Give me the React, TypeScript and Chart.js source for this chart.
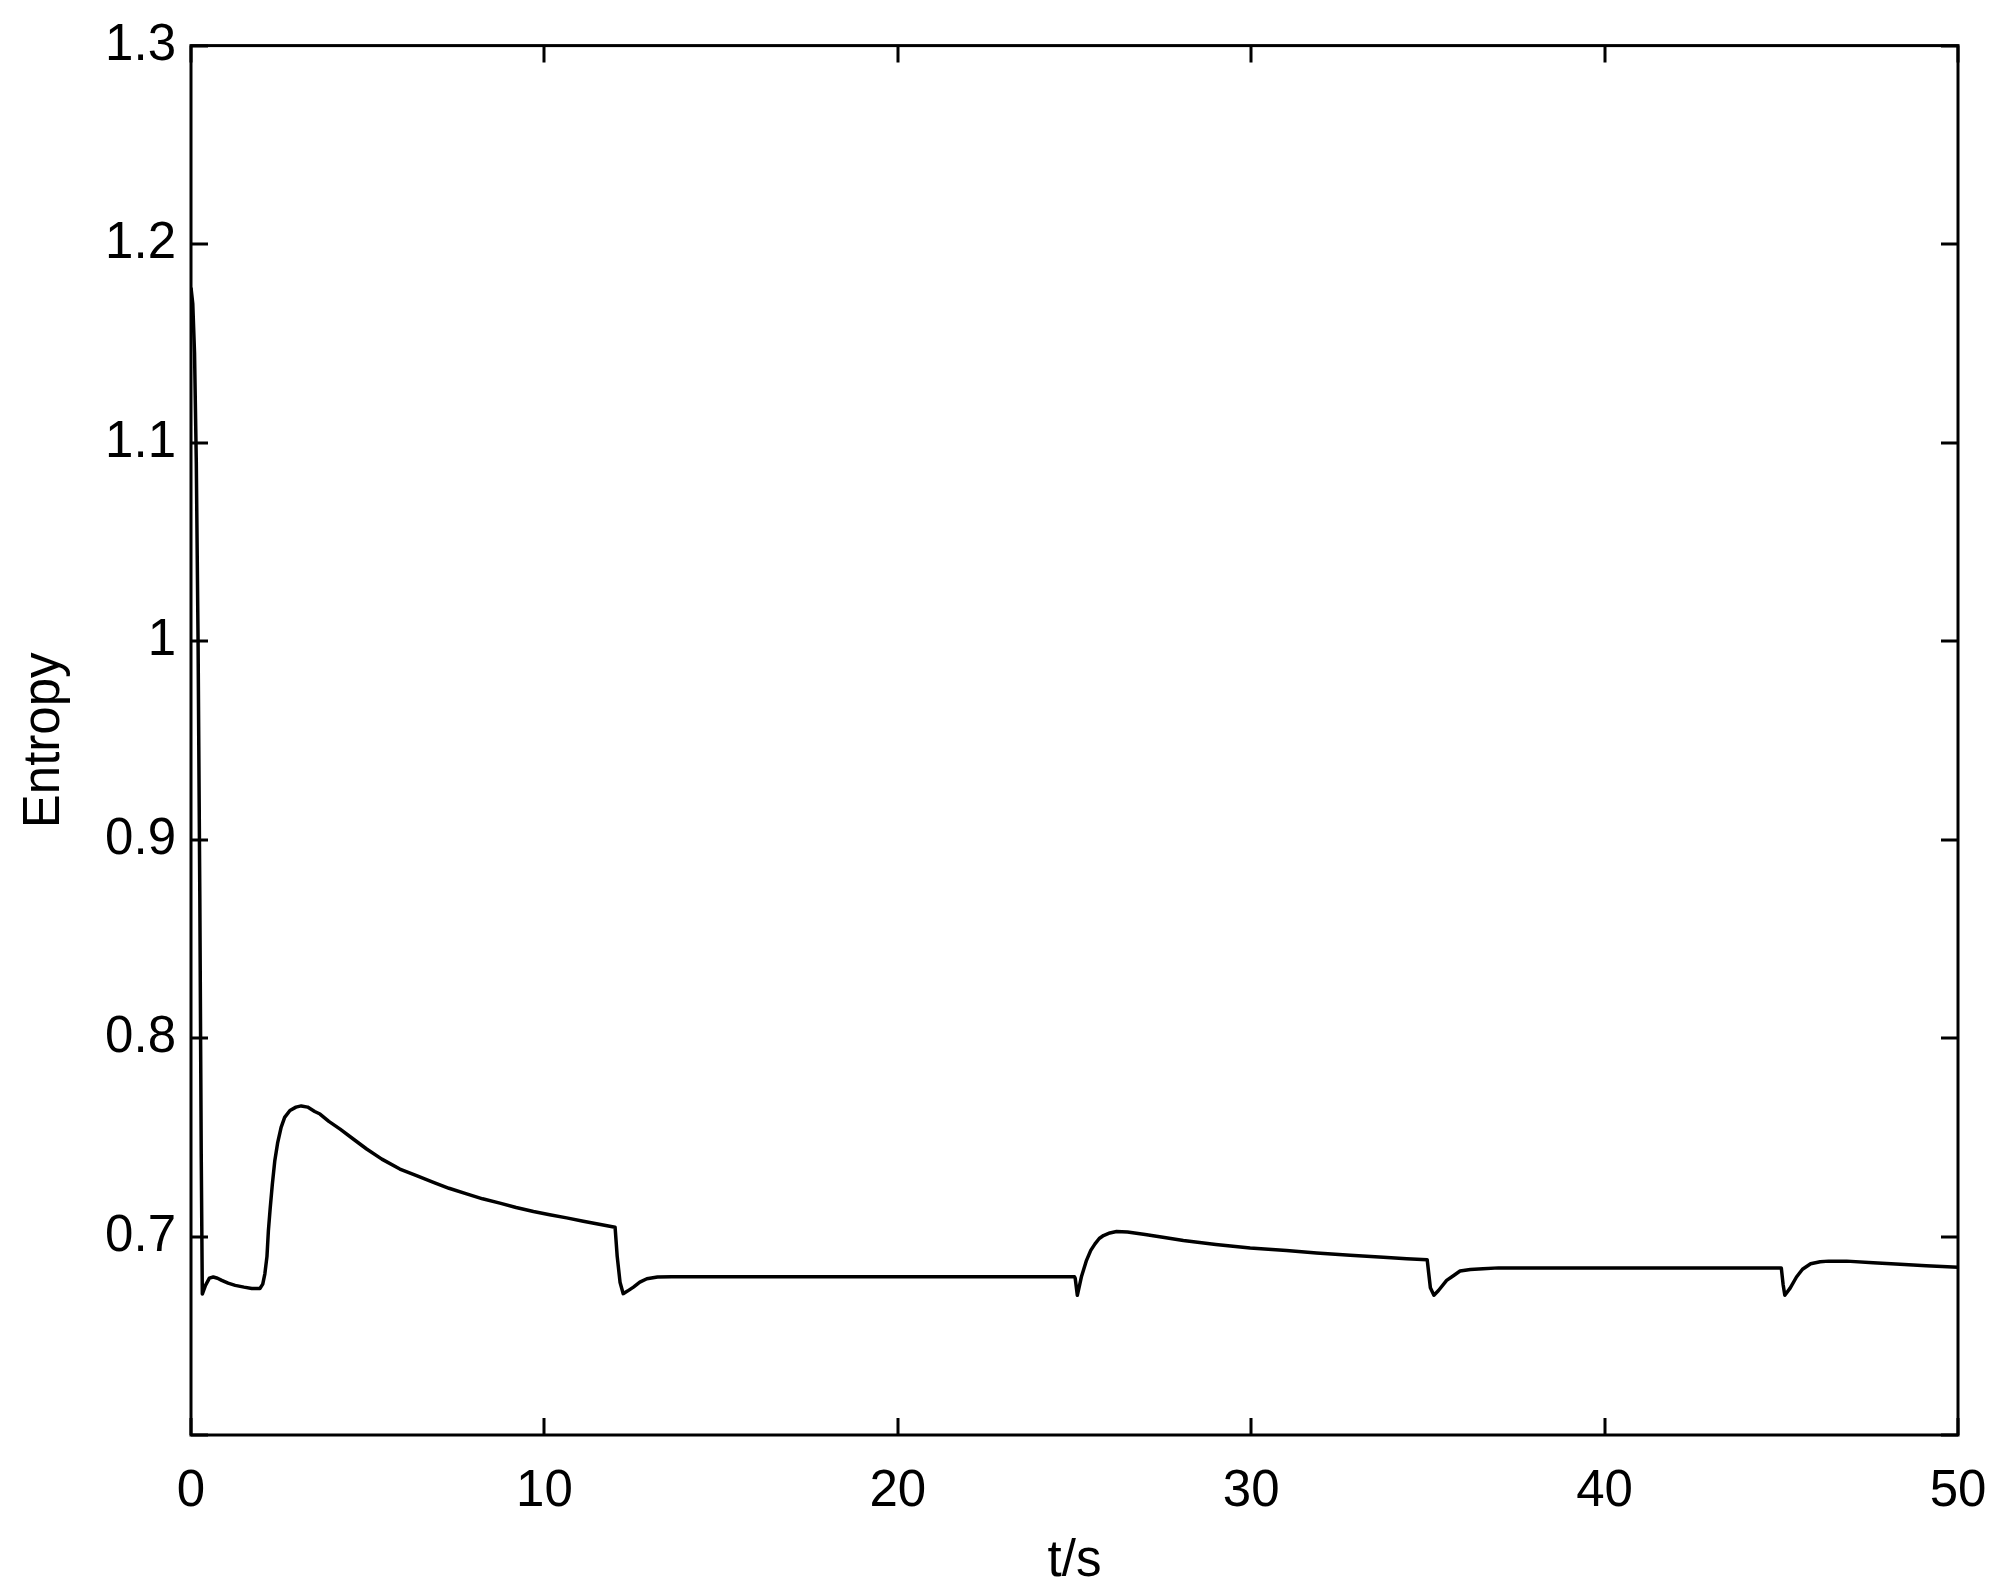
import React, { useEffect, useRef } from "react";
import { Chart, registerables } from "chart.js";

Chart.register(...registerables);

const timeData: number[] = [
  0, 0.05, 0.1, 0.15, 0.2, 0.25, 0.29, 0.32,
  0.41, 0.52, 0.63, 0.75, 0.87, 1.05, 1.25, 1.5, 1.72, 1.95,
  2.03, 2.09, 2.15, 2.19, 2.24, 2.3, 2.37, 2.45, 2.55, 2.65, 2.8, 2.97, 3.12, 3.3, 3.5, 3.65,
  3.9, 4.22, 4.6, 4.97, 5.4, 5.91, 6.4, 6.86, 7.3, 7.8, 8.25, 8.74, 9.2, 9.69, 10.15, 10.63,
  11.1, 11.55, 12.0, 12.06, 12.14, 12.23, 12.35, 12.52, 12.7, 12.9, 13.2, 13.6,
  25.0, 25.02, 25.08, 25.2, 25.34, 25.46, 25.58, 25.7, 25.82, 26.0, 26.19, 26.5, 27.0, 27.5,
  28.08, 29.0, 29.97, 31.0, 31.85, 32.8, 33.74, 34.4, 34.98,
  35.07, 35.17, 35.3, 35.53, 35.7, 35.91, 36.2, 36.56, 37.0,
  45.0, 45.05, 45.1, 45.25, 45.43, 45.6, 45.83, 46.1, 46.34, 46.85, 47.6, 48.36, 49.1, 50.0,
];

const entropyData: number[] = [
  1.178, 1.17, 1.145, 1.09, 1.0, 0.87, 0.74, 0.671,
  0.6754, 0.679, 0.6796, 0.679, 0.6779, 0.6765, 0.6754, 0.6745, 0.6738, 0.6738,
  0.676, 0.6812, 0.69, 0.703, 0.714, 0.726, 0.738, 0.747, 0.755, 0.76, 0.7635, 0.7652, 0.7658, 0.7652, 0.763, 0.7617,
  0.758, 0.7541, 0.749, 0.7441, 0.739, 0.734, 0.7305, 0.7273, 0.7243, 0.7215, 0.719, 0.7168, 0.7146, 0.7126, 0.711, 0.7094,
  0.7077, 0.7062, 0.7047, 0.69, 0.677, 0.6712, 0.6725, 0.6745, 0.677, 0.6787, 0.6796, 0.6797,
  0.6797, 0.679, 0.6704, 0.68, 0.688, 0.693, 0.6963, 0.699, 0.7005, 0.7018, 0.7025, 0.7023, 0.701, 0.6996,
  0.698, 0.696, 0.6942, 0.6929, 0.6917, 0.6906, 0.6896, 0.6888, 0.6883,
  0.6742, 0.6704, 0.6728, 0.6779, 0.68, 0.6826, 0.6834, 0.6838, 0.6842,
  0.6842, 0.676, 0.6704, 0.674, 0.6796, 0.6835, 0.6863, 0.6873, 0.6876, 0.6876, 0.6868, 0.686, 0.6853, 0.6845,
];

const xTicks: number[] = [0, 10, 20, 30, 40, 50];
const yTicks: number[] = [0.6, 0.7, 0.8, 0.9, 1.0, 1.1, 1.2, 1.3];
const yHiddenLabel = 0.6;

const FONT = "'Liberation Sans', Arial, Helvetica, sans-serif";

const framePlugin = {
  id: "matlabFrame",
  afterDatasetsDraw(chart: any) {
    const { ctx, chartArea } = chart;
    const { left, right, top, bottom } = chartArea;
    const xs = chart.scales.x;
    const ys = chart.scales.y;
    const tl = 17;
    ctx.save();
    ctx.strokeStyle = "#000";
    ctx.lineWidth = 3;
    ctx.lineCap = "butt";
    ctx.beginPath();
    for (const v of xTicks) {
      const px = Math.round(xs.getPixelForValue(v));
      ctx.moveTo(px, bottom);
      ctx.lineTo(px, bottom - tl);
      ctx.moveTo(px, top);
      ctx.lineTo(px, top + tl);
    }
    for (const v of yTicks) {
      const py = Math.round(ys.getPixelForValue(v));
      ctx.moveTo(left, py);
      ctx.lineTo(left + tl, py);
      ctx.moveTo(right, py);
      ctx.lineTo(right - tl, py);
    }
    ctx.stroke();
    ctx.strokeRect(left, top, right - left, bottom - top);
    ctx.restore();
  },
};

export default function App() {
  const canvasRef = useRef<HTMLCanvasElement | null>(null);

  useEffect(() => {
    document.body.style.margin = "0";
    const canvas = canvasRef.current;
    if (!canvas) return;
    const points = timeData.map((t, i) => ({ x: t, y: entropyData[i] }));
    const chart = new Chart(canvas, {
      type: "line",
      data: {
        datasets: [
          {
            data: points,
            borderColor: "#000",
            borderWidth: 3.5,
            borderJoinStyle: "round",
            pointRadius: 0,
            tension: 0,
            fill: false,
          },
        ],
      },
      options: {
        animation: false,
        responsive: false,
        devicePixelRatio: 1,
        layout: { padding: { top: 44, right: 57, left: 0, bottom: 0 } },
        plugins: {
          legend: { display: false },
          tooltip: { enabled: false },
        },
        scales: {
          x: {
            type: "linear",
            min: 0,
            max: 50,
            afterFit: (s: any) => {
              s.height = 158;
            },
            afterBuildTicks: (s: any) => {
              s.ticks = xTicks.map((v) => ({ value: v }));
            },
            grid: { display: false, drawTicks: false },
            border: { display: false },
            ticks: {
              color: "#000",
              padding: 26,
              maxRotation: 0,
              font: { family: FONT, size: 51 },
              callback: (v: any) => String(v),
            },
            title: {
              display: true,
              text: "t/s",
              color: "#000",
              font: { family: FONT, size: 51 },
              padding: { top: 4, bottom: 0 },
            },
          },
          y: {
            type: "linear",
            min: 0.6,
            max: 1.3,
            afterFit: (s: any) => {
              s.width = 191;
            },
            afterBuildTicks: (s: any) => {
              s.ticks = yTicks.map((v) => ({ value: v }));
            },
            grid: { display: false, drawTicks: false },
            border: { display: false },
            ticks: {
              color: "#000",
              padding: 15,
              font: { family: FONT, size: 51 },
              callback: (v: any) => {
                const n = Number(Number(v).toFixed(1));
                if (Math.abs(n - yHiddenLabel) < 1e-6) return "";
                return String(n);
              },
            },
            title: {
              display: true,
              text: "Entropy",
              color: "#000",
              font: { family: FONT, size: 51 },
              padding: { top: 14, bottom: 0 },
            },
          },
        },
      },
      plugins: [framePlugin],
    });
    return () => chart.destroy();
  }, []);

  return (
    <div style={{ position: "absolute", left: 0, top: 0, width: 2015, height: 1593, background: "#fff" }}>
      <canvas ref={canvasRef} width={2015} height={1593} style={{ display: "block" }} />
    </div>
  );
}
